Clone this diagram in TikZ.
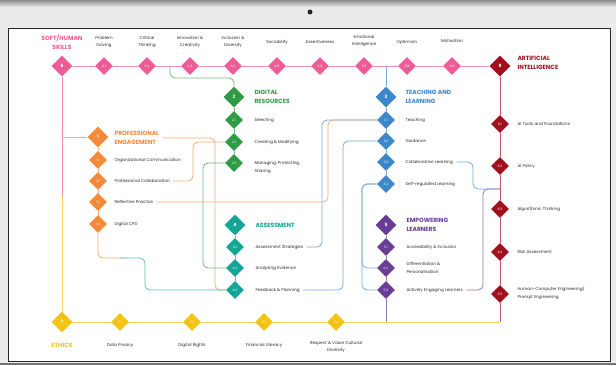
\documentclass[tikz,border=0pt]{standalone}
\usepackage{fontspec}
\setmainfont{Poppins}
\usetikzlibrary{shapes.geometric}
\definecolor{softpink}{HTML}{EE5C97}
\definecolor{proorange}{HTML}{F28A3A}
\definecolor{diggreen}{HTML}{2E9B45}
\definecolor{teachblue}{HTML}{3B87C9}
\definecolor{assteal}{HTML}{14A596}
\definecolor{emppurple}{HTML}{683C97}
\definecolor{aired}{HTML}{A20F1C}
\definecolor{ethyellow}{HTML}{F5C316}
\definecolor{txtgray}{HTML}{2A2A2A}
\tikzset{
  subdia/.style={diamond, fill=#1, inner sep=0pt, minimum width=18pt, minimum height=18pt,
    text=white, font=\fontsize{3.2}{4}\selectfont},
  maindia/.style={subdia=#1, minimum width=21pt, minimum height=21pt, font=\fontsize{4.5}{5}\selectfont\bfseries},
  item/.style={anchor=west, align=left, text=txtgray, font=\fontsize{4.2}{8}\selectfont},
  toplabel/.style={align=center, text=txtgray, font=\fontsize{4.2}{7}\selectfont},
  heading/.style={anchor=west, align=left, text=#1, font=\fontsize{6}{8.5}\selectfont\bfseries},
  link/.style={draw=#1!70, line width=0.8pt, rounded corners=5pt},
}
\begin{document}
\begin{tikzpicture}[x=1pt, y=-1pt]
    \useasboundingbox (0,0) rectangle (616,365);
    % screen frame
    \fill[black!8] (0,0) rectangle (616,365);
    \shade[top color=black!45, bottom color=black!8] (0,0) rectangle (616,7);
    \fill[black!85] (310,12) circle (2.5);
    \filldraw[fill=white, draw=black!85, line width=1pt] (8,28) rectangle (610,361);
    \fill[black!55] (0,363) rectangle (616,365);

    % soft / human skills row
    \node[maindia=softpink] (soft) at (62,66) {6};
    \node[subdia=softpink] (soft1) at (104,66) {6.1};
    \node[subdia=softpink] (soft2) at (147,66) {6.2};
    \node[subdia=softpink] (soft3) at (190,66) {6.3};
    \node[subdia=softpink] (soft4) at (233,66) {6.4};
    \node[subdia=softpink] (soft5) at (277,66) {6.5};
    \node[subdia=softpink] (soft6) at (320,66) {6.6};
    \node[subdia=softpink] (soft7) at (364,66) {6.7};
    \node[subdia=softpink] (soft8) at (407,66) {6.8};
    \node[subdia=softpink] (soft9) at (452,66) {6.9};
    \node[heading=softpink, anchor=center, align=center] (softT) at (62,42) {SOFT/HUMAN\\SKILLS};
    \node[toplabel] (soft1T) at (104,42) {Problem\\Solving};
    \node[toplabel] (soft2T) at (147,42) {Critical\\Thinking};
    \node[toplabel] (soft3T) at (190,42) {Innovation \&\\Creativity};
    \node[toplabel] (soft4T) at (233,42) {Inclusion \&\\Diversity};
    \node[toplabel] (soft5T) at (277,42) {Sociability};
    \node[toplabel] (soft6T) at (320,42) {Assertiveness};
    \node[toplabel] (soft7T) at (364,41) {Emotional\\Intelligence};
    \node[toplabel] (soft8T) at (407,42) {Optimism};
    \node[toplabel] (soft9T) at (452,41) {Motivation};

    % artificial intelligence
    \node[maindia=aired] (ai) at (500,66) {8};
    \node[subdia=aired] (ai1) at (500,124) {8.1};
    \node[subdia=aired] (ai2) at (500,166) {8.2};
    \node[subdia=aired] (ai3) at (500,209) {8.3};
    \node[subdia=aired] (ai4) at (500,252) {8.4};
    \node[subdia=aired] (ai5) at (500,294) {8.5};
    \node[heading=aired] (aiT) at (514,63) {ARTIFICIAL\\INTELLIGENCE};
    \node[item] (ai1T) at (514,124) {AI Tools and Foundations};
    \node[item] (ai2T) at (514,166) {AI Policy};
    \node[item] (ai3T) at (514,209) {Algorithmic Thinking};
    \node[item] (ai4T) at (514,252) {Risk Assessment};
    \node[item] (ai5T) at (514,293) {Human-Computer Engineering/\\Prompt Engineering};

    % professional engagement
    \node[maindia=proorange] (pro) at (98,137) {1};
    \node[subdia=proorange] (pro1) at (98,160) {1.1};
    \node[subdia=proorange] (pro2) at (98,181) {1.2};
    \node[subdia=proorange] (pro3) at (98,202) {1.3};
    \node[subdia=proorange] (pro4) at (98,224) {1.4};
    \node[heading=proorange] (proT) at (111,138) {PROFESSIONAL\\ENGAGEMENT};
    \node[item] (pro1T) at (111,160) {Organizational Communication};
    \node[item] (pro2T) at (111,181) {Professional Collaboration};
    \node[item] (pro3T) at (111,202) {Reflective Practice};
    \node[item] (pro4T) at (111,224) {Digital CPD};

    % digital resources
    \node[maindia=diggreen] (dig) at (234,97) {2};
    \node[subdia=diggreen] (dig1) at (234,120) {2.1};
    \node[subdia=diggreen] (dig2) at (234,142) {2.2};
    \node[subdia=diggreen] (dig3) at (234,163) {2.3};
    \node[heading=diggreen] (digT) at (251,97) {DIGITAL\\RESOURCES};
    \node[item] (dig1T) at (251,120) {Selecting};
    \node[item] (dig2T) at (251,142) {Creating \& Modifying};
    \node[item] (dig3T) at (251,167) {Managing, Protecting,\\Sharing};

    % teaching and learning
    \node[maindia=teachblue] (teach) at (386,97) {3};
    \node[subdia=teachblue] (teach1) at (386,120) {3.1};
    \node[subdia=teachblue] (teach2) at (386,141) {3.2};
    \node[subdia=teachblue] (teach3) at (386,162) {3.3};
    \node[subdia=teachblue] (teach4) at (386,184) {3.4};
    \node[heading=teachblue] (teachT) at (402,97) {TEACHING AND\\LEARNING};
    \node[item] (teach1T) at (402,120) {Teaching};
    \node[item] (teach2T) at (402,141) {Guidance};
    \node[item] (teach3T) at (402,162) {Collaborative Learning};
    \node[item] (teach4T) at (402,184) {Self-regulated Learning};

    % assessment
    \node[maindia=assteal] (ass) at (235,225) {4};
    \node[subdia=assteal] (ass1) at (235,247) {4.1};
    \node[subdia=assteal] (ass2) at (235,268) {4.2};
    \node[subdia=assteal] (ass3) at (235,290) {4.3};
    \node[heading=assteal] (assT) at (252,225) {ASSESSMENT};
    \node[item] (ass1T) at (252,247) {Assessment Strategies};
    \node[item] (ass2T) at (252,268) {Analysing Evidence};
    \node[item] (ass3T) at (252,290) {Feedback \& Planning};

    % empowering learners
    \node[maindia=emppurple] (emp) at (386,225) {5};
    \node[subdia=emppurple] (emp1) at (386,247) {5.1};
    \node[subdia=emppurple] (emp2) at (386,268) {5.2};
    \node[subdia=emppurple] (emp3) at (386,290) {5.3};
    \node[heading=emppurple] (empT) at (403,225) {EMPOWERING\\LEARNERS};
    \node[item] (emp1T) at (403,247) {Accessibility \& Inclusion};
    \node[item] (emp2T) at (403,268) {Differentiation \&\\Personalisation};
    \node[item] (emp3T) at (403,290) {Actively Engaging Learners};

    % ethics
    \node[maindia=ethyellow] (eth) at (62,322) {7};
    \node[subdia=ethyellow] (eth1) at (120,322) {7.1};
    \node[subdia=ethyellow] (eth2) at (192,322) {7.2};
    \node[subdia=ethyellow] (eth3) at (264,322) {7.3};
    \node[subdia=ethyellow] (eth4) at (336,322) {7.4};
    \node[heading=ethyellow, anchor=center] (ethT) at (62,345) {ETHICS};
    \node[toplabel] (eth1T) at (120,345) {Data Privacy};
    \node[toplabel] (eth2T) at (192,345) {Digital Rights};
    \node[toplabel] (eth3T) at (264,345) {Financial Literacy};
    \node[toplabel] (eth4T) at (336,347) {Respect \& Value Cultural\\Diversity};

    \coordinate (greenfork) at (170,66);
    \coordinate (bluefork) at (386,66);
    \coordinate (orangefork) at (62,137);
    \coordinate (pinkjoin) at (62,195);
    \coordinate (aijoin) at (500,189);
    \coordinate (empjoin) at (386,322);
    \coordinate (ethend) at (500,322);

    % rows and columns
    \foreach \a/\b in {soft/soft1,soft1/soft2,soft2/soft3,soft3/soft4,soft4/soft5,
        soft5/soft6,soft6/soft7,soft7/soft8,soft8/soft9,soft9/ai}
        \draw[link=softpink] (\a.east) -- (\b.west);
    \foreach \a/\b in {eth/eth1,eth1/eth2,eth2/eth3,eth3/eth4}
        \draw[link=ethyellow] (\a.east) -- (\b.west);
    \draw[link=ethyellow] (eth4.east) -- (ethend);
    \draw[link=softpink] (soft.south) -- (pinkjoin);
    \draw[link=ethyellow] (pinkjoin) -- (eth.north);
    \foreach \a/\b in {ai/ai1,ai1/ai2,ai2/ai3,ai3/ai4,ai4/ai5}
        \draw[link=aired] (\a.south) -- (\b.north);
    \draw[link=aired] (ai5.south) -- (ethend);
    \foreach \a/\b in {pro/pro1,pro1/pro2,pro2/pro3,pro3/pro4}
        \draw[link=proorange] (\a.south) -- (\b.north);
    \foreach \a/\b in {dig/dig1,dig1/dig2,dig2/dig3}
        \draw[link=diggreen] (\a.south) -- (\b.north);
    \foreach \a/\b in {teach/teach1,teach1/teach2,teach2/teach3,teach3/teach4}
        \draw[link=teachblue] (\a.south) -- (\b.north);
    \foreach \a/\b in {ass/ass1,ass1/ass2,ass2/ass3}
        \draw[link=assteal] (\a.south) -- (\b.north);
    \foreach \a/\b in {emp/emp1,emp1/emp2,emp2/emp3}
        \draw[link=emppurple] (\a.south) -- (\b.north);
    \draw[link=emppurple] (emp3.south) -- (empjoin);

    % cross links
    \draw[link=proorange] (orangefork) -- (pro.west);
    \draw[link=diggreen] (greenfork) -- (170,78) -| (dig.north);
    \draw[link=teachblue] (bluefork) -- (teach.north);
    \draw[link=proorange] (proT.east) -- (215,138) |- (ass3.west);
    \draw[link=proorange] (pro2T.east) -- (193,181) |- (dig2.west);
    \draw[link=proorange] (pro3T.east) -- (328,202) |- (teach1.west);
    \draw[link=proorange] (pro4.south) |- (125,258);
    \draw[link=assteal] (120,258) -- (145,258) |- (ass3.west);
    \draw[link=diggreen] (dig3.west) -- (203,163) |- (ass2.west);
    \draw[link=teachblue] (teach1.west) -- (322,120) |- (ass1T.east);
    \draw[link=teachblue] (teach2.west) -- (343,141) |- (ass3T.east);
    \draw[link=teachblue] (teach3T.east) -- (473,162) |- (aijoin);
    \draw[link=teachblue] (teach4.west) -- (362,184) |- (emp2.west);
    \draw[link=teachblue] (teach4.west) -- (362,184) |- (emp3.west);
    \draw[link=emppurple] (emp3T.east) -- (483,290) |- (aijoin);
\end{tikzpicture}
\end{document}
